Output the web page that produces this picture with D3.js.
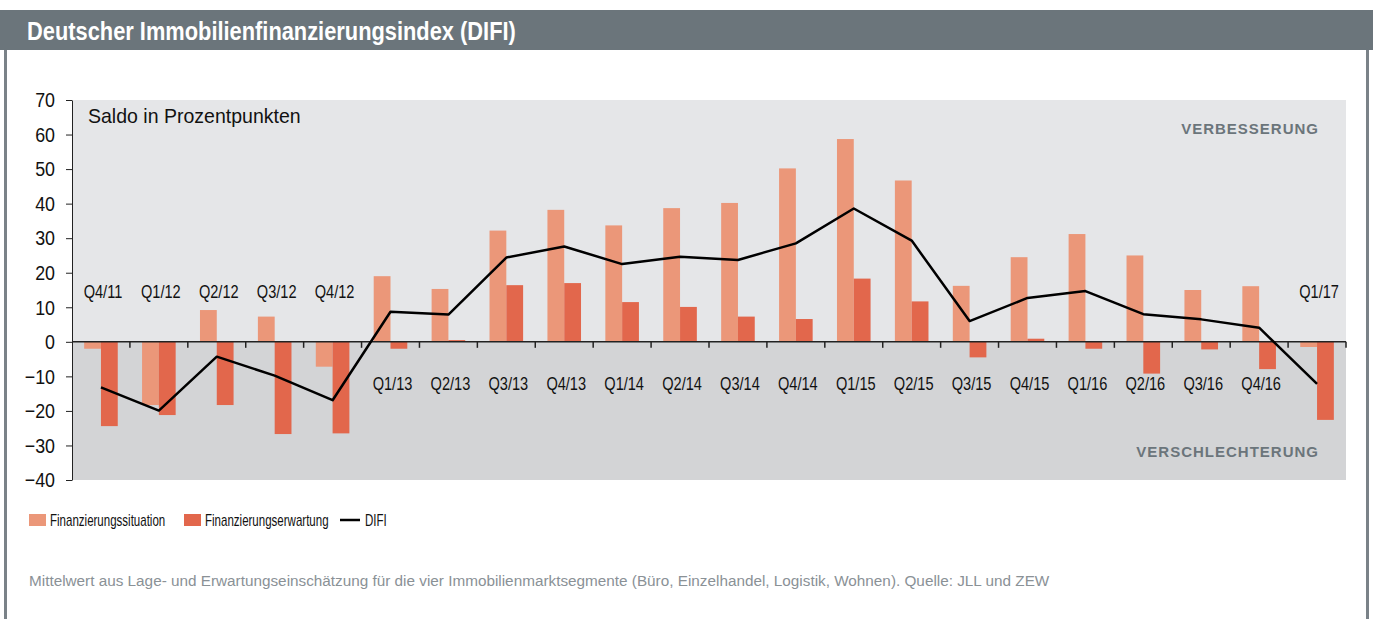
<!DOCTYPE html>
<html>
<head>
<meta charset="utf-8">
<script src="https://cdn.jsdelivr.net/npm/d3@7"></script>
<style>
  body { margin: 0; background: #fff; }
  svg text { font-family: "Liberation Sans", Arial, sans-serif; }
</style>
</head>
<body>
<svg id="chart" width="1373" height="619"></svg>
<script>

// chart data
var quarters = ["Q4/11", "Q1/12", "Q2/12", "Q3/12", "Q4/12",
    "Q1/13", "Q2/13", "Q3/13", "Q4/13",
    "Q1/14", "Q2/14", "Q3/14", "Q4/14",
    "Q1/15", "Q2/15", "Q3/15", "Q4/15",
    "Q1/16", "Q2/16", "Q3/16", "Q4/16",
    "Q1/17"];
var situation = [-2, -18.3, 9.2, 7.3, -7.2, 19.0, 15.3, 32.2, 38.2, 33.7, 38.7, 40.2, 50.2, 58.7, 46.7, 16.2, 24.5, 31.2, 25.0, 15.0, 16.1, -1.5];
var erwartung = [-24.4, -21.2, -18.3, -26.7, -26.5, -2.0, 0.5, 16.4, 17.0, 11.5, 10.1, 7.3, 6.6, 18.3, 11.7, -4.5, 0.9, -2.0, -9.2, -2.2, -7.9, -22.6];
var difi = [-13.2, -19.9, -4.3, -9.8, -16.9, 8.7, 7.9, 24.4, 27.6, 22.5, 24.6, 23.7, 28.5, 38.6, 29.3, 6.0, 12.7, 14.7, 8.0, 6.5, 4.1, -12.2];
var yTicks = [70, 60, 50, 40, 30, 20, 10, 0, -10, -20, -30, -40];
// quarters whose label sits above the zero line
var labelsAbove = ["Q4/11", "Q1/12", "Q2/12", "Q3/12", "Q4/12", "Q1/17"];

var colLight = "#eb9779";
var colDark = "#e2674c";

// squeeze text horizontally to get the condensed look of the original
function condensed(sel, k) {
    sel.each(function () {
        var t = d3.select(this);
        var tx = +t.attr("x") || 0, ty = +t.attr("y") || 0;
        t.attr("x", 0).attr("y", 0)
            .attr("transform", "translate(" + tx + "," + ty + ") scale(" + k + ",1)");
    });
}

var svg = d3.select("#chart");

// frame + header
svg.append("rect").attr("x", 0).attr("y", 10).attr("width", 1373).attr("height", 40).attr("fill", "#6b757b");
svg.append("rect").attr("x", 4).attr("y", 50).attr("width", 3).attr("height", 569).attr("fill", "#7a8288");
svg.append("rect").attr("x", 1366).attr("y", 50).attr("width", 3).attr("height", 569).attr("fill", "#7a8288");
svg.append("text")
    .attr("x", 27).attr("y", 40)
    .attr("fill", "#fff")
    .attr("font-size", 26)
    .attr("font-weight", "bold")
    .text("Deutscher Immobilienfinanzierungsindex (DIFI)")
    .call(condensed, 0.84);

// plot box
var plotLeft = 72, plotRight = 1346, plotTop = 100, plotBottom = 480;

var x = d3.scaleBand()
    .domain(quarters)
    .range([plotLeft, plotRight])
    .padding(0);

var x1 = d3.scaleBand()
    .domain(["s", "e"])
    .range([x.bandwidth() * 0.21, x.bandwidth() * 0.79]);

var y = d3.scaleLinear()
    .domain([-40, 70])
    .range([plotBottom, plotTop]);

// background zones
svg.append("rect")
    .attr("x", plotLeft).attr("y", y(70))
    .attr("width", plotRight - plotLeft).attr("height", y(0) - y(70))
    .attr("fill", "#e5e6e8");
svg.append("rect")
    .attr("x", plotLeft).attr("y", y(0))
    .attr("width", plotRight - plotLeft).attr("height", y(-40) - y(0))
    .attr("fill", "#d3d4d6");

// annotations
svg.append("text")
    .attr("x", 88).attr("y", 123)
    .attr("font-size", 21)
    .attr("fill", "#111")
    .text("Saldo in Prozentpunkten")
    .call(condensed, 0.93);

svg.append("text")
    .attr("x", 1319).attr("y", 134)
    .attr("text-anchor", "end")
    .attr("font-size", 15)
    .attr("font-weight", "bold")
    .attr("letter-spacing", 1)
    .attr("fill", "#6b757b")
    .text("VERBESSERUNG");

svg.append("text")
    .attr("x", 1319).attr("y", 457)
    .attr("text-anchor", "end")
    .attr("font-size", 15)
    .attr("font-weight", "bold")
    .attr("letter-spacing", 1)
    .attr("fill", "#6b757b")
    .text("VERSCHLECHTERUNG");

// bars
var groups = svg.selectAll("g.quarter")
    .data(quarters)
    .enter().append("g")
    .attr("class", "quarter")
    .attr("transform", function (d) { return "translate(" + x(d) + ",0)"; });

groups.append("rect")
    .attr("x", x1("s"))
    .attr("width", x1.bandwidth())
    .attr("y", function (d, i) { return y(Math.max(0, situation[i])); })
    .attr("height", function (d, i) { return Math.abs(y(situation[i]) - y(0)); })
    .attr("fill", colLight);

groups.append("rect")
    .attr("x", x1("e"))
    .attr("width", x1.bandwidth())
    .attr("y", function (d, i) { return y(Math.max(0, erwartung[i])); })
    .attr("height", function (d, i) { return Math.abs(y(erwartung[i]) - y(0)); })
    .attr("fill", colDark);

// quarter labels
groups.append("text")
    .attr("x", x.bandwidth() / 2 + 2)
    .attr("y", function (d) { return labelsAbove.indexOf(d) >= 0 ? 298 : 390; })
    .attr("text-anchor", "middle")
    .attr("font-size", 18)
    .attr("fill", "#111")
    .text(function (d) { return d; })
    .call(condensed, 0.81);

// zero axis with ticks at band edges
svg.append("line")
    .attr("x1", plotLeft).attr("x2", plotRight)
    .attr("y1", y(0)).attr("y2", y(0))
    .attr("stroke", "#222")
    .attr("stroke-width", 1.5);

svg.append("g")
    .selectAll("line")
    .data(quarters.slice(1).concat(["end"]))
    .enter().append("line")
    .attr("x1", function (d) { return d === "end" ? plotRight : x(d); })
    .attr("x2", function (d) { return d === "end" ? plotRight : x(d); })
    .attr("y1", y(0))
    .attr("y2", y(0) + 6)
    .attr("stroke", "#222")
    .attr("stroke-width", 1.5);

// y axis
var yAxis = d3.axisLeft(y)
    .tickValues(yTicks)
    .tickSize(6)
    .tickSizeOuter(0);
var gy = svg.append("g")
    .attr("transform", "translate(" + plotLeft + ",0)")
    .call(yAxis);
gy.select(".domain").attr("stroke", "#222");
gy.selectAll(".tick line").attr("stroke", "#222");
gy.selectAll(".tick text")
    .attr("x", -17)
    .attr("font-size", 21)
    .attr("font-family", "Liberation Sans, Arial, sans-serif")
    .attr("fill", "#111")
    .call(condensed, 0.85);

// DIFI line
var line = d3.line()
    .x(function (d, i) { return x(quarters[i]) + x.bandwidth() / 2; })
    .y(function (d) { return y(d); });

svg.append("path")
    .datum(difi)
    .attr("d", line)
    .attr("fill", "none")
    .attr("stroke", "#000")
    .attr("stroke-width", 2.5)
    .attr("stroke-linejoin", "round");

// legend
var legend = svg.append("g").attr("transform", "translate(0,520)");
legend.append("rect").attr("x", 29).attr("y", -6).attr("width", 17).attr("height", 12).attr("fill", colLight);
legend.append("rect").attr("x", 184).attr("y", -6).attr("width", 17).attr("height", 12).attr("fill", colDark);
legend.append("line").attr("x1", 340).attr("x2", 360).attr("y1", 0).attr("y2", 0).attr("stroke", "#000").attr("stroke-width", 2.5);
legend.selectAll("text")
    .data([["Finanzierungssituation", 50], ["Finanzierungserwartung", 205], ["DIFI", 365]])
    .enter().append("text")
    .attr("x", function (d) { return d[1]; })
    .attr("y", 6)
    .attr("font-size", 16)
    .attr("fill", "#111")
    .text(function (d) { return d[0]; })
    .call(condensed, 0.72);

// footnote
svg.append("text")
    .attr("x", 29).attr("y", 586)
    .attr("font-size", 15.3)
    .attr("fill", "#8a9196")
    .text("Mittelwert aus Lage- und Erwartungseinschätzung für die vier Immobilienmarktsegmente (Büro, Einzelhandel, Logistik, Wohnen). Quelle: JLL und ZEW");

</script>
</body>
</html>
